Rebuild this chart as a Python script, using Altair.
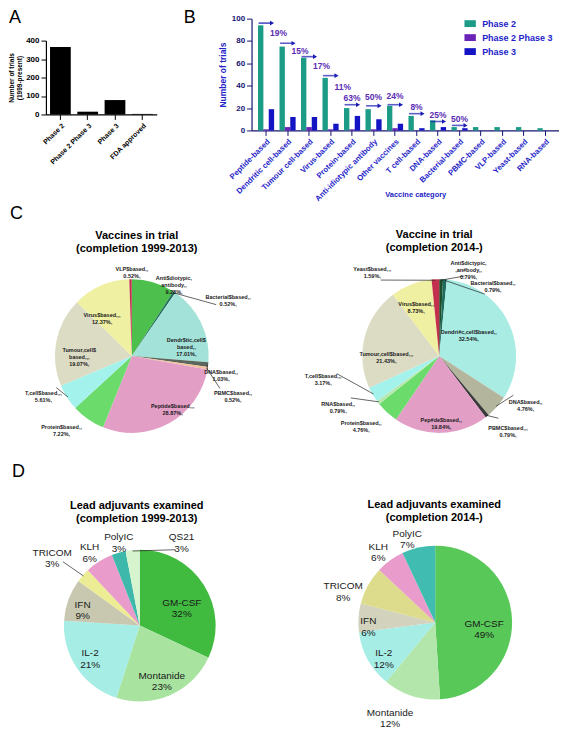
import math
import altair as alt
import pandas as pd

FONT = "Liberation Sans"
BLUE_TXT = "#2323c8"
AXIS_BLUE = "#141470"
W, H = 551, 718

# ---------------- Panel A data ----------------
a_phases = ["Phase 2", "Phase 2 Phase 3", "Phase 3", "FDA approved"]
a_trials = [365, 15, 78, 3]

# ---------------- Panel B data ----------------
b_categories = ["Peptide-based", "Dendritic cell-based", "Tumour cell-based", "Virus-based",
                "Protein-based", "Anti-idiotypic antibody", "Other vaccines", "T cell-based",
                "DNA-based", "Bacterial-based", "PBMC-based", "VLP-based", "Yeast-based", "RNA-based"]
b_series = ["Phase 2", "Phase 2 Phase 3", "Phase 3"]
b_phase2 = [94, 75, 65, 47, 20, 19, 22, 13, 9, 3, 3, 3, 3, 2]
b_phase23 = [1, 3, 3, 1, 1, 1, 2, 0, 0, 0, 0, 0, 0, 0]
b_phase3 = [19, 12, 12, 6, 13, 10, 6, 2, 3, 2, 0, 0, 0, 0]
b_pct_text = ["19%", "15%", "17%", "11%", "63%", "50%", "24%", "8%", "25%", "50%"]
b_arrow_level = [96, 78, 66, 49, 23, 22, 23, 15, 8, 4.5]
b_pct_level = [87, 71, 58, 39, 29, 30, 31, 21, 14, 10]
b_colors = ["#1c9c86", "#6a22b8", "#1414c4"]

# ---------------- Panel C data ----------------
c1_names = ["Anti$diotypic,\nantibody,,", "Bacterial$based,,", "Dendr$tic,cell$\nbased,,", "DNA$based,,",
            "PBMC$based,,", "Peptide$based,,,", "Protein$based,,", "T,cell$based,,,",
            "Tumour,cell$\nbased,,,", "Virus$based,,,", "VLP$based,,"]
c1_pct = [9.28, 0.52, 17.01, 1.03, 0.52, 28.87, 7.22, 5.61, 19.07, 12.37, 0.52]
c1_colors = ["#4cbf4c", "#1f6e5c", "#a3e2d8", "#5c665c", "#f2c29a", "#e39ec6",
             "#6bdc6b", "#a3f3ec", "#dcdcc4", "#f0f0a2", "#c2304e"]
c1_label_shift = [12, 25, 9, 4, 11, -10, 10, 10, -4, -12, 1]
c1_label_r = [89, 113, 57, 91, 108, 65, 100, 96, 53, 51, 87]
c1_leader = [0, 1, 0, 1, 1, 0, 0, 1, 0, 0, 0]

c2_names = ["Anti$dictypic,\n,an#body,,", "Bacterial$based,,", "Dendri#c,cell$based,,", "DNA$based,,",
            "PBMC$based,,,", "Pep#de$based,,", "Protein$based,,", "RNA$based,,", "T,cell$based,,,",
            "Tumour,cell$based,,,", "Virus$based,,", "Yeast$based,,,"]
c2_pct = [0.79, 0.79, 32.54, 4.76, 0.79, 19.84, 4.76, 0.79, 3.17, 21.43, 8.73, 1.59]
c2_colors = ["#1e4d2b", "#1d6b5b", "#a8ece4", "#b3b59c", "#3a3a3a", "#e39ec6",
             "#6bdc6b", "#b8e8b0", "#a3f3ec", "#dcdcc4", "#f0f0a2", "#c2304e"]
c2_label_shift = [16, 32, -13, -13.5, -5, -0.4, 6.5, 11.8, 20.2, -12, -2.5, -34.7]
c2_label_r = [98, 91, 38, 98, 100, 64, 103, 112, 118, 53, 57, 110]
c2_leader = [1, 1, 0, 1, 1, 0, 0, 1, 1, 0, 0, 1]

# ---------------- Panel D data ----------------
d1_names = ["GM-CSF", "Montanide", "IL-2", "IFN", "TRICOM", "KLH", "PolyIC", "QS21"]
d1_pct = [32, 23, 21, 9, 3, 6, 3, 3]
d1_colors = ["#40bb40", "#a8e3a0", "#a6ede6", "#c8c8b0", "#ecec94", "#e99ccb", "#3fb8ac", "#d6f4ce"]
d1_label_shift = [3.7, -0.3, 5, 0.4, -1.7, -0.3, 2.9, 30.7]
d1_label_r = [48, 55, 57, 61, 114, 93, 91, 98]
d1_leader = [0, 0, 0, 0, 1, 0, 0, 1]

d2_names = ["GM-CSF", "Montanide", "IL-2", "IFN", "TRICOM", "KLH", "PolyIC"]
d2_pct = [49, 12, 12, 6, 8, 6, 7]
d2_colors = ["#58c858", "#b2e6aa", "#a6ede6", "#d2d2bd", "#dcdc8c", "#e99ccb", "#40bdb0"]
d2_label_shift = [3, 8.6, -2, -2.7, -7.4, -0.9, -4.9]
d2_label_r = [49, 101, 60, 67, 99, 95, 93]
d2_leader = [0, 0, 0, 0, 0, 0, 0]

# ---------------- layout anchors (pixels inside the canvas) ----------------
A_XR, A_YR = [37, 148], [105, 31]
B_XR, B_YR = [243, 552], [121, 9]
C1_C, C2_C = (123, 347), (431, 347)
D1_C, D2_C = (131, 617), (427, 614)


def text_mark(text, x, y, size, weight="normal", align="left", baseline="alphabetic",
              line_height=None):
    kw = {}
    if line_height is not None:
        kw["lineHeight"] = line_height
    return alt.Chart(pd.DataFrame({"t": [text]})).mark_text(
        align=align, baseline=baseline, fontSize=size, font=FONT, fontWeight=weight,
        color="black", lineBreak="\n", **kw).encode(
        text="t:N", x=alt.value(x), y=alt.value(y))


# ---------------- Panel A ----------------
a_df = pd.DataFrame({"phase": a_phases, "trials": a_trials})
chart_a = alt.Chart(a_df).mark_bar(color="black").encode(
    x=alt.X("phase:N", sort=a_phases,
            scale=alt.Scale(range=A_XR, paddingInner=0.24, paddingOuter=0.15),
            axis=alt.Axis(orient="bottom", offset=A_YR[0] - H, title=None, labelAngle=-45,
                          labelFontSize=7, labelFont=FONT, labelFontWeight="bold",
                          labelColor="black", domainColor="black", tickColor="black",
                          labelPadding=2, domainWidth=1.2)),
    y=alt.Y("trials:Q", scale=alt.Scale(domain=[0, 400], range=A_YR),
            axis=alt.Axis(orient="left", offset=-A_XR[0], values=[0, 100, 200, 300, 400],
                          grid=False, title=["Number of trials", "(1999-present)"],
                          titleFontSize=6.5, titleFont=FONT, titleFontWeight="bold",
                          titleColor="black", labelFontSize=8, labelFont=FONT,
                          labelFontWeight="bold", labelColor="black", domainColor="black",
                          tickColor="black", titlePadding=3, domainWidth=1.2)),
)

# ---------------- Panel B ----------------
rows = []
for i, c in enumerate(b_categories):
    for s, vals in zip(b_series, [b_phase2, b_phase23, b_phase3]):
        rows.append({"category": c, "series": s, "trials": vals[i]})
b_df = pd.DataFrame(rows)
ann_df = pd.DataFrame({"category": b_categories[:len(b_pct_text)], "pct": b_pct_text,
                       "arrow": b_arrow_level, "level": b_pct_level,
                       "side": [i < 4 for i in range(len(b_pct_text))]})

xb = alt.X("category:N", sort=b_categories,
           scale=alt.Scale(range=B_XR, paddingInner=0.25, paddingOuter=0.3),
           axis=alt.Axis(orient="bottom", offset=B_YR[0] - H, title="Vaccine category",
                         labelAngle=-45, labelFontSize=7.8, labelFont=FONT,
                         labelFontWeight="bold", labelColor=BLUE_TXT, titleFontSize=7.5,
                         titleFont=FONT, titleFontWeight="bold", titleColor=BLUE_TXT,
                         titleX=407, titleY=64, titleBaseline="middle", titleAlign="center",
                         domainColor=AXIS_BLUE, tickColor=AXIS_BLUE, labelPadding=2,
                         domainWidth=1.2))
yb = alt.Y("trials:Q", scale=alt.Scale(domain=[0, 100], range=B_YR),
           axis=alt.Axis(orient="left", offset=-B_XR[0], values=[0, 20, 40, 60, 80, 100],
                         grid=False, title="Number of trials", titleFontSize=8.5,
                         titleFont=FONT, titleFontWeight="bold", titleColor=BLUE_TXT,
                         labelFontSize=8, labelFont=FONT, labelFontWeight="bold",
                         labelColor=AXIS_BLUE, domainColor=AXIS_BLUE, tickColor=AXIS_BLUE,
                         titlePadding=4, domainWidth=1.2))

bars_b = alt.Chart(b_df).mark_bar().encode(
    x=xb,
    xOffset=alt.XOffset("series:N", sort=b_series, scale=alt.Scale(domain=b_series)),
    y=yb,
    color=alt.Color("series:N", scale=alt.Scale(domain=b_series, range=b_colors),
                    legend=alt.Legend(title=None, orient="none", legendX=456, legendY=8,
                                      padding=0, labelFontSize=9, labelFont=FONT,
                                      labelFontWeight="bold", labelColor=BLUE_TXT,
                                      symbolType="M-1,-0.6H1V0.6H-1Z", symbolSize=130,
                                      symbolStrokeWidth=0, rowPadding=3, labelOffset=6)),
)
ann = alt.Chart(ann_df)
xa = alt.X("category:N", sort=b_categories)
arrow_shaft = ann.mark_tick(orient="horizontal", size=13, thickness=1.6, color="#1a1ab4",
                            xOffset=-1).encode(x=xa, y=alt.Y("arrow:Q"))
arrow_head = ann.mark_point(shape="triangle-right", filled=True, size=22, color="#1a1ab4",
                            opacity=1, xOffset=6).encode(x=xa, y=alt.Y("arrow:Q"))
pct_side = ann.transform_filter("datum.side").mark_text(
    align="left", dx=4, fontSize=8.5, font=FONT, fontWeight="bold", color="#5a2cb4").encode(
    x=xa, y=alt.Y("level:Q"), text="pct:N")
pct_top = ann.transform_filter("!datum.side").mark_text(
    align="center", fontSize=8.5, font=FONT, fontWeight="bold", color="#5a2cb4").encode(
    x=xa, y=alt.Y("level:Q"), text="pct:N")
chart_b = alt.layer(bars_b, arrow_shaft, arrow_head, pct_side, pct_top)


# ---------------- Pies ----------------
def pie(names, pct, colors, shift, rad, leader, center, outer, label_size, label_weight,
        show_pct_dec):
    cx, cy = center
    total = sum(pct)
    recs, lines = [], []
    cum = 0.0
    for i, (n, v, col, s, r, ld) in enumerate(zip(names, pct, colors, shift, rad, leader)):
        mid = (cum + v / 2.0) / total * 360.0
        cum += v
        pct_txt = f"{v:.2f}%," if show_pct_dec else f"{v:g}%"
        lt = mid + s
        recs.append({"order": i, "name": n, "value": v, "fill": col,
                     "label": f"{n}\n{pct_txt}", "ltheta": lt, "lr": r})
        if ld:
            a0, a1 = math.radians(mid), math.radians(lt)
            r1 = r - 14
            lines.append({"x": cx + (outer - 1) * math.sin(a0), "y": cy - (outer - 1) * math.cos(a0),
                          "x2": cx + r1 * math.sin(a1), "y2": cy - r1 * math.cos(a1)})
    df = pd.DataFrame(recs)
    base = alt.Chart(df)
    arcs = base.mark_arc(outerRadius=outer).encode(
        theta=alt.Theta("value:Q", stack=True),
        order=alt.Order("order:Q"),
        color=alt.Color("fill:N", scale=None),
        x=alt.value(cx), y=alt.value(cy),
    )
    labels = base.mark_text(lineBreak="\n", fontSize=label_size, font=FONT,
                            fontWeight=label_weight, color="#1a1a1a", baseline="middle",
                            lineHeight=label_size + 1.5).encode(
        theta=alt.Theta("ltheta:Q", stack=None,
                        scale=alt.Scale(domain=[0, 360], range=[0, 2 * math.pi])),
        radius=alt.Radius("lr:Q", scale=None),
        text="label:N",
        x=alt.value(cx), y=alt.value(cy),
    )
    layers = [arcs, labels]
    if lines:
        layers.append(alt.Chart(pd.DataFrame(lines)).mark_rule(
            color="#222222", strokeWidth=0.7).encode(
            x=alt.X("x:Q", scale=None), y=alt.Y("y:Q", scale=None), x2="x2:Q", y2="y2:Q"))
    return alt.layer(*layers).resolve_scale(theta="independent")


c1 = pie(c1_names, c1_pct, c1_colors, c1_label_shift, c1_label_r, c1_leader, C1_C, 77,
         5.5, "bold", True)
c2 = pie(c2_names, c2_pct, c2_colors, c2_label_shift, c2_label_r, c2_leader, C2_C, 77,
         5.5, "bold", True)
d1 = pie(d1_names, d1_pct, d1_colors, d1_label_shift, d1_label_r, d1_leader, D1_C, 76,
         10, "normal", False)
d2 = pie(d2_names, d2_pct, d2_colors, d2_label_shift, d2_label_r, d2_leader, D2_C, 77,
         10, "normal", False)

# ---------------- titles and panel letters ----------------
annotations = [
    text_mark("A", 0, 13, 18),
    text_mark("B", 175, 13, 18),
    text_mark("C", 1, 210, 18),
    text_mark("D", 3, 468, 18),
    text_mark("Vaccines in trial\n(completion 1999-2013)", 128, 226.5, 11, "bold", "center",
              "middle", 13),
    text_mark("Vaccine in trial\n(completion 2014-)", 426, 225.5, 11, "bold", "center",
              "middle", 13),
    text_mark("Lead adjuvants examined\n(completion 1999-2013)", 128, 497, 11, "bold",
              "center", "middle", 13),
    text_mark("Lead adjuvants examined\n(completion 2014-)", 426, 496, 11, "bold",
              "center", "middle", 13),
]

chart = alt.layer(chart_a, chart_b, c1, c2, d1, d2, *annotations).resolve_scale(
    x="independent", y="independent", color="independent", theta="independent").properties(
    width=W, height=H, padding=0).configure_view(stroke=None)

chart.save("out.html", embed_options={"renderer": "svg", "actions": False})
